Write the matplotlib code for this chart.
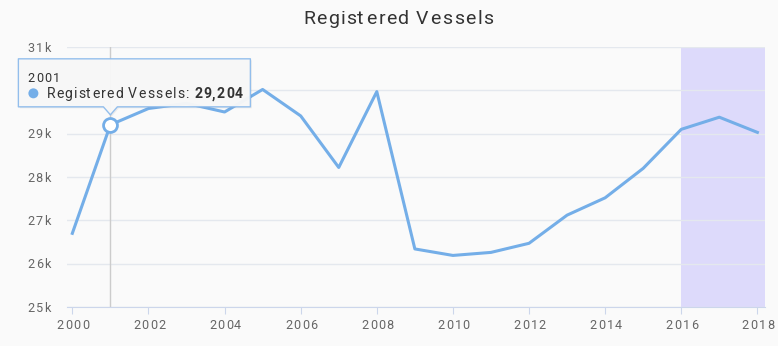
import matplotlib
matplotlib.use("Agg")
import matplotlib.pyplot as plt
from matplotlib.patches import Polygon, Circle
from matplotlib.transforms import IdentityTransform
from matplotlib.font_manager import findfont, FontProperties
from matplotlib.ft2font import FT2Font

# data: registered vessels per year
years = list(range(2000, 2019))
vessels = [26700, 29204, 29580, 29700, 29500, 30020, 29410, 28220, 29970,
           26340, 26190, 26260, 26470, 27120, 27520, 28200, 29100, 29380, 29030]
xtick_years = list(range(2000, 2019, 2))
ytick_vals = list(range(25000, 31001, 1000))
band_start = 2016
focus_year = 2001
title = "Registered Vessels"
series_name = "Registered Vessels"

line_color = "#74aee8"
bg = "#fafafa"
text_dark = "#333333"
text_grey = "#666666"
plt.rcParams["font.family"] = ["Roboto", "DejaVu Sans"]

W, H = 778, 346
fig = plt.figure(figsize=(W / 100, H / 100), dpi=100, facecolor=bg)
ax = fig.add_axes([67 / W, 1 - 307 / H, (765 - 67) / W, (307 - 47) / H])
ax.set_facecolor(bg)

x_lo, x_hi = 1999.86, 2018.2
ax.set_xlim(x_lo, x_hi)
ax.set_ylim(ytick_vals[0], ytick_vals[-1])

# highlighted period
ax.axvspan(band_start, x_hi, color="#dddafb", lw=0, zorder=0)

# grid and axes
ax.set_yticks(ytick_vals)
ax.set_xticks(xtick_years)
ax.grid(axis="y", color="#e4e8ee", lw=1)
ax.set_axisbelow(True)
for s in ("top", "right", "left"):
    ax.spines[s].set_visible(False)
ax.spines["bottom"].set_color("#ccd6eb")
ax.tick_params(axis="y", length=0, labelleft=False)
ax.tick_params(axis="x", length=5, color="#ccd6eb", labelbottom=False)

# crosshair
ax.axvline(focus_year, color="#cccccc", lw=1, zorder=1)

# the series
ax.plot(years, vessels, color=line_color, lw=2.2, solid_joinstyle="round", zorder=3)
fv = vessels[years.index(focus_year)]
ax.plot([focus_year], [fv], "o", ms=10, mfc="white", mec=line_color, mew=2, zorder=4)

# ---------------------------------------------------------------
# letter-spaced text, placed glyph by glyph in pixels
# ---------------------------------------------------------------
ident = IdentityTransform()


def glyph_metrics(s, size, weight):
    font = FT2Font(findfont(FontProperties(family="Roboto", weight=weight)))
    font.set_size(size, 100)
    out = []
    for ch in s:
        g = font.load_char(ord(ch))
        out.append((g.linearHoriAdvance / 65536, g.horiBearingX / 64))
    return out


def spaced_text(x, y, s, sp, ha="left", size=10, weight="normal", zorder=3, **kw):
    m = glyph_metrics(s, size, weight)
    pens, p = [], 0.0
    for adv, _ in m:
        pens.append(p)
        p += adv + sp
    total = p - sp
    x0 = x - {"left": 0.0, "center": total / 2, "right": total}[ha]
    for ch, pen, (adv, lsb) in zip(s, pens, m):
        if ch != " ":
            fig.text(x0 + pen + lsb, y, ch, transform=ident, ha="left",
                     va="baseline", fontsize=size, fontweight=weight,
                     zorder=zorder, **kw)
    return x0 + total + sp


# tooltip geometry around the hovered point (pixels)
px, py = ax.transData.transform((focus_year, fv))
left, right = px - 92, px + 140
top, bottom = py + 66, py + 18
tip = py + 10

# title
spaced_text(397, H - 23.5, title, 1.5, ha="center", size=14, color=text_dark)

# tick labels (the one under the tooltip is covered by it)
for yv in ytick_vals:
    _, yp = ax.transData.transform((x_lo, yv))
    if bottom < yp < top:
        continue
    spaced_text(49.5, yp - 4.5, f"{yv / 1000:.0f}k", 1.2, ha="right",
                size=9.1, color=text_grey)
_, axis_y = ax.transData.transform((x_lo, ytick_vals[0]))
for xv in xtick_years:
    xp, _ = ax.transData.transform((xv, ytick_vals[0]))
    spaced_text(xp, axis_y - 21.5, str(xv), 1.3, ha="center", size=9.1,
                color=text_grey)

# tooltip
shape = [(left, bottom), (px - 7, bottom), (px, tip), (px + 7, bottom),
         (right, bottom), (right, top), (left, top)]
shadow = Polygon([(x + 1.5, y - 1.5) for x, y in shape], closed=True,
                 transform=ident, fc="#000000", alpha=0.06, lw=0, zorder=5)
box = Polygon(shape, closed=True, transform=ident, fc="#f8f8f8", alpha=0.96,
              ec="#8fbcec", lw=1, zorder=6, joinstyle="round")
fig.patches.extend([shadow, box])

spaced_text(left + 8.5, top - 23.5, str(focus_year), 1.1, size=9.1,
            color=text_dark, zorder=7)
fig.patches.append(Circle((left + 15, top - 34.5), 5, transform=ident,
                          fc=line_color, lw=0, zorder=7))
label_end = spaced_text(left + 27.5, top - 39.5, f"{series_name}: ", 1.1,
                        size=10.1, color=text_dark, zorder=7)
spaced_text(label_end, top - 39.5, f"{fv:,}", 1.1, size=10.1, weight="bold",
            color=text_dark, zorder=7)

fig.savefig("out.png", dpi=100, facecolor=bg)
